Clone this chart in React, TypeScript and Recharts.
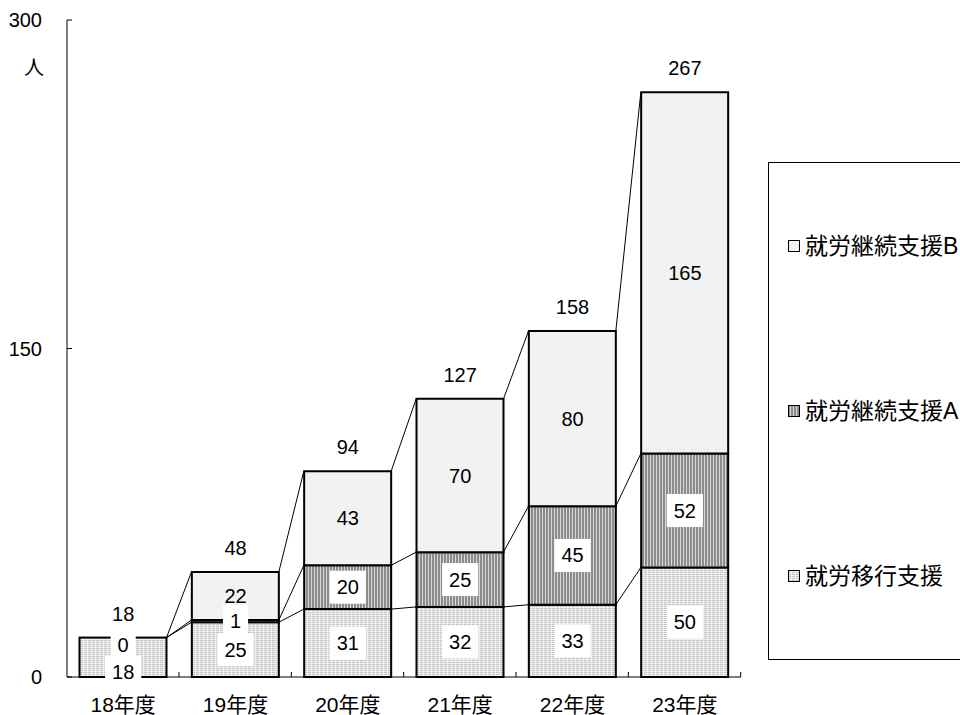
import { ComposedChart, Bar, Line, XAxis, YAxis, Legend, LabelList } from "recharts";

const categories = ["18年度", "19年度", "20年度", "21年度", "22年度", "23年度"];
// 就労移行支援 / 就労継続支援A / 就労継続支援B
const ikou = [18, 25, 31, 32, 33, 50];
const keizokuA = [0, 1, 20, 25, 45, 52];
const keizokuB: (number | null)[] = [null, 22, 43, 70, 80, 165];
const totals = [18, 48, 94, 127, 158, 267];
const yTicks = [0, 150, 300];

// mid-levels of each stacked segment carry the value labels
const data = categories.map((name, i) => {
  const b = keizokuB[i];
  return {
    name,
    ikou: ikou[i],
    a: keizokuA[i],
    b,
    total: totals[i],
    ikouMid: ikou[i] / 2,
    aMid: ikou[i] + keizokuA[i] / 2,
    bMid: b == null ? null : ikou[i] + keizokuA[i] + b / 2,
  };
});

const FONT = '"Liberation Sans", Arial, "Noto Sans CJK JP", sans-serif';
const CAT_GAP = 12.5;
const LEGEND_W = 200;

// hand-placed nudges for the crowded first column
const IKOU_NUDGE = [15, 0, 0, 0, 0, 0];
const A_NUDGE = [7, 0, 0, 0, 0, 0];

const legendItems = [
  { name: "就労継続支援B", fill: "#f2f2f2" },
  { name: "就労継続支援A", fill: "url(#patA)" },
  { name: "就労移行支援", fill: "url(#patIkou)" },
];

// bottom segment; also draws the series lines over to the next column
// and the small axis mark on the right edge of its band
function IkouShape(props: any) {
  const { x, y, width, height, index, payload } = props;
  const y0 = y + height;
  const k = height / payload.ikou;
  const next = data[index + 1];
  const levels = (d: any) => [d.ikou, d.ikou + d.a, d.total];
  const lines: any[] = [];
  if (next) {
    const x1 = x + width;
    const x2 = x + width + 2 * CAT_GAP;
    const from = levels(payload);
    const to = levels(next);
    from.forEach((v, j) => {
      lines.push(
        <line key={j} x1={x1} y1={y0 - k * v} x2={x2} y2={y0 - k * to[j]} stroke="#000" strokeWidth={1} />
      );
    });
  }
  const edge = x + width + CAT_GAP;
  return (
    <g>
      <rect x={x} y={y} width={width} height={height} fill="url(#patIkou)" stroke="#000" strokeWidth={2} />
      {lines}
      <line x1={edge} y1={y0} x2={edge} y2={y0 - 5} stroke="#000" strokeWidth={1} />
    </g>
  );
}

const segLabel = (nudge: number[] | null, boxed: boolean) => (p: any) => {
  const vb = p.viewBox || p;
  if (p.value == null) return null;
  const s = String(p.value);
  const cx = vb.x + (vb.width || 0) / 2;
  const cy = vb.y + (vb.height || 0) / 2 + (nudge ? nudge[p.index] || 0 : 0);
  const bw = s.length * 11.1 + 14;
  return (
    <g>
      {boxed && <rect x={cx - bw / 2} y={cy - 16.5} width={bw} height={33} fill="#fff" />}
      <text x={cx} y={cy} textAnchor="middle" dominantBaseline="central" fontSize={20} fontFamily={FONT} fill="#000">
        {s}
      </text>
    </g>
  );
};

const totalLabel = (p: any) => {
  const vb = p.viewBox || p;
  return (
    <text x={vb.x + (vb.width || 0) / 2} y={vb.y - 24} textAnchor="middle" dominantBaseline="central" fontSize={20} fontFamily={FONT} fill="#000">
      {p.value}
    </text>
  );
};

function YTick(p: any) {
  const { x, y, payload } = p;
  return (
    <g>
      <line x1={x} y1={y} x2={x + 5} y2={y} stroke="#000" />
      <text x={x - 25} y={y} textAnchor="end" dominantBaseline="central" fontSize={20} fontFamily={FONT} fill="#000">
        {payload.value}
      </text>
      {payload.value === yTicks[yTicks.length - 1] && (
        <text x={x - 33} y={y + 48} textAnchor="middle" dominantBaseline="central" fontSize={20} fontFamily={FONT} fill="#000">
          人
        </text>
      )}
    </g>
  );
}

function XTick(p: any) {
  const { x, y, payload } = p;
  return (
    <text x={x} y={y + 27} textAnchor="middle" dominantBaseline="central" fontSize={21} fontFamily={FONT} fill="#000">
      {payload.value}
    </text>
  );
}

function LegendBox() {
  return (
    <div
      style={{
        boxSizing: "border-box",
        width: "100%",
        height: "100%",
        border: "1px solid #000",
        background: "#fff",
        display: "flex",
        flexDirection: "column",
        justifyContent: "space-around",
        paddingLeft: 19,
        fontFamily: FONT,
        fontSize: 23,
        color: "#000",
      }}
    >
      {legendItems.map((s) => (
        <div key={s.name} style={{ display: "flex", alignItems: "center", lineHeight: "30px" }}>
          <svg width={12} height={12} style={{ display: "block" }}>
            <rect x={0.5} y={0.5} width={11} height={11} fill={s.fill} stroke="#000" />
          </svg>
          <span style={{ marginLeft: 5, whiteSpace: "nowrap" }}>{s.name}</span>
        </div>
      ))}
    </div>
  );
}

const hiddenLine = { stroke: "none", dot: false, activeDot: false, legendType: "none" as const, isAnimationActive: false };

export default function App() {
  return (
    <div style={{ width: 960, height: 715, overflow: "hidden", background: "#fff" }}>
      <style>{"body{margin:0}"}</style>
      <ComposedChart
        width={960}
        height={715}
        data={data}
        margin={{ top: 20, right: 219 - LEGEND_W, bottom: 0, left: 7 }}
        barCategoryGap={CAT_GAP}
      >
        <defs>
          <pattern id="patIkou" width={4} height={2} patternUnits="userSpaceOnUse">
            <rect width={4} height={2} fill="#f0f0f0" />
            <rect width={3} height={1} fill="#c4c4c4" />
          </pattern>
          <pattern id="patA" width={3} height={2} patternUnits="userSpaceOnUse">
            <rect width={3} height={2} fill="#d6d6d6" />
            <rect width={2} height={2} fill="#8c8c8c" />
          </pattern>
        </defs>
        <XAxis
          dataKey="name"
          height={38}
          tickLine={false}
          tickSize={0}
          tickMargin={0}
          axisLine={{ stroke: "#000" }}
          tick={<XTick />}
        />
        <YAxis
          width={60}
          domain={[0, 300]}
          ticks={yTicks}
          tickLine={false}
          tickSize={0}
          tickMargin={0}
          axisLine={{ stroke: "#000" }}
          tick={<YTick />}
        />
        <Legend
          layout="horizontal"
          verticalAlign="middle"
          align="right"
          width={LEGEND_W}
          wrapperStyle={{ left: 768, top: 162, width: LEGEND_W, height: 498 }}
          content={() => <LegendBox />}
        />
        <Bar dataKey="ikou" name="就労移行支援" stackId="s" shape={<IkouShape />} isAnimationActive={false} />
        <Bar dataKey="a" name="就労継続支援A" stackId="s" fill="url(#patA)" stroke="#000" strokeWidth={2} isAnimationActive={false} />
        <Bar dataKey="b" name="就労継続支援B" stackId="s" fill="#f2f2f2" stroke="#000" strokeWidth={2} isAnimationActive={false} />
        <Line dataKey="ikouMid" {...hiddenLine}>
          <LabelList dataKey="ikou" content={segLabel(IKOU_NUDGE, true)} />
        </Line>
        <Line dataKey="aMid" {...hiddenLine}>
          <LabelList dataKey="a" content={segLabel(A_NUDGE, true)} />
        </Line>
        <Line dataKey="bMid" {...hiddenLine}>
          <LabelList dataKey="b" content={segLabel(null, false)} />
        </Line>
        <Line dataKey="total" {...hiddenLine}>
          <LabelList dataKey="total" content={totalLabel} />
        </Line>
      </ComposedChart>
    </div>
  );
}
